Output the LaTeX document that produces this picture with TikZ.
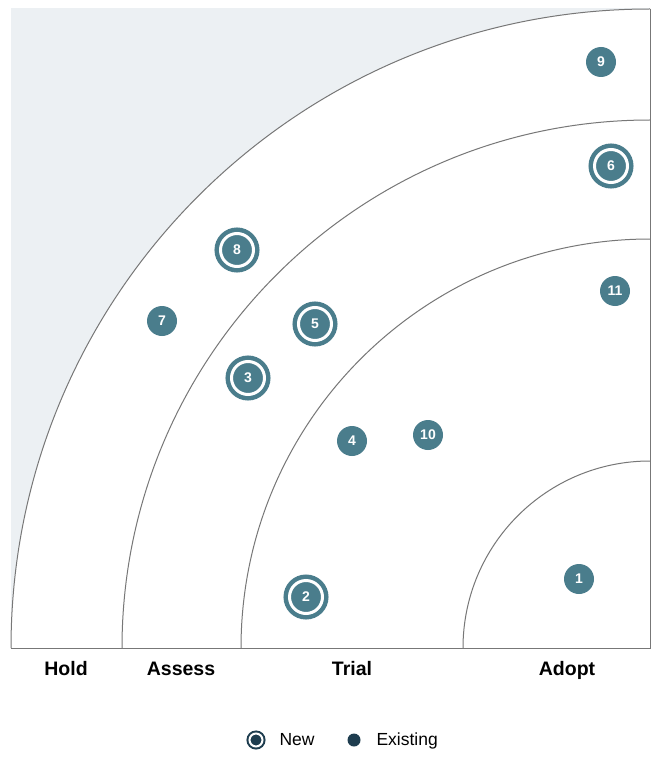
\documentclass[tikz,border=0pt]{standalone}
\usepackage{fontspec}
\setmainfont{Liberation Sans}
\definecolor{blipteal}{HTML}{4A7D8C}
\definecolor{legendnavy}{HTML}{1E3D4F}
\definecolor{holdgrey}{HTML}{ECF0F3}
\definecolor{ringgrey}{HTML}{777777}

\begin{document}
\begin{tikzpicture}[
	x=1pt,
	y=-1pt,
	ring line/.style={draw=ringgrey,line width=1pt},
	ring label/.style={anchor=base,font=\fontsize{19.5}{22}\selectfont\bfseries},
	old blip/.style={circle,fill=blipteal,inner sep=0pt,minimum size=30pt,text=white,font=\fontsize{14}{14}\selectfont\bfseries},
	new blip/.style={old blip,minimum size=33pt,draw=blipteal,line width=4.5pt,double=white,double distance=3pt},
	legend text/.style={anchor=base west,font=\fontsize{17.5}{20}\selectfont}
]
\useasboundingbox (0,0) rectangle (661,762);

% rings
\fill[holdgrey] (11,8) rectangle (650,648);
\fill[white] (650,648) -- (11,648) arc[start angle=180,end angle=270,radius=639] -- cycle;
\draw[ring line] (11,648) arc[start angle=180,end angle=270,radius=639];
\draw[ring line] (122,648) arc[start angle=180,end angle=270,radius=528];
\draw[ring line] (241,648) arc[start angle=180,end angle=270,radius=409];
\draw[ring line] (463,648) arc[start angle=180,end angle=270,radius=187];
\draw[ring line] (11,648) -- (650,648) -- (650,9);

\node[ring label] (hold) at (66,675) {Hold};
\node[ring label] (assess) at (181,675) {Assess};
\node[ring label] (trial) at (352,675) {Trial};
\node[ring label] (adopt) at (567,675) {Adopt};

% blips
\node[old blip] (b1) at (579,579) {1};
\node[new blip] (b2) at (306,597) {2};
\node[new blip] (b3) at (248,378) {3};
\node[old blip] (b4) at (352,441) {4};
\node[new blip] (b5) at (315,324) {5};
\node[new blip] (b6) at (611,166) {6};
\node[old blip] (b7) at (162,321) {7};
\node[new blip] (b8) at (237,250) {8};
\node[old blip] (b9) at (601,62) {9};
\node[old blip] (b10) at (428,435) {10};
\node[old blip] (b11) at (615,291) {11};

% legend
\node[circle,fill=legendnavy,draw=legendnavy,inner sep=0pt,minimum size=13pt,line width=2pt,double=white,double distance=2pt] (newkey) at (256,740) {};
\node[legend text] (newtext) at (276,745.5) {New};
\node[circle,fill=legendnavy,inner sep=0pt,minimum size=13pt] (oldkey) at (354,740) {};
\node[legend text] (oldtext) at (373,745.5) {Existing};
\end{tikzpicture}
\end{document}
